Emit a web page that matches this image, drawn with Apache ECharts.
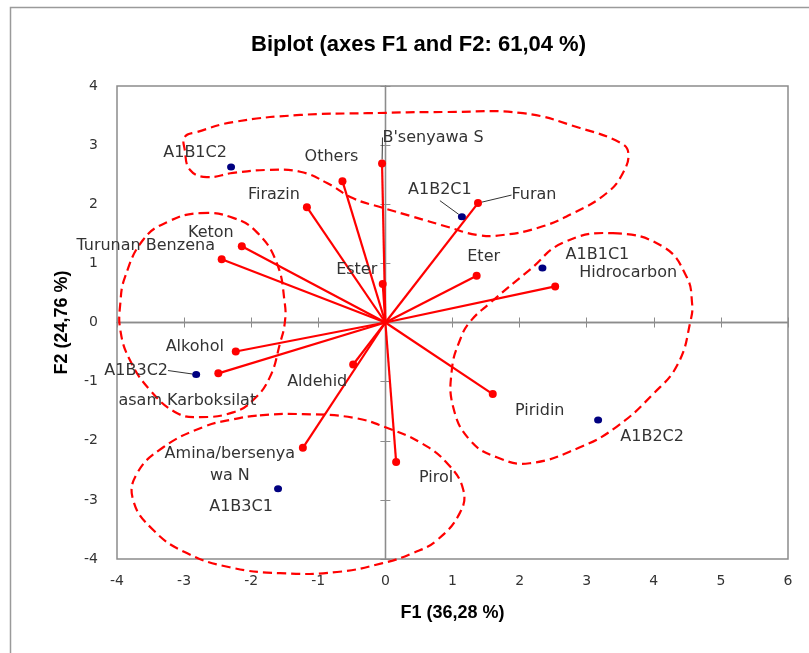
<!DOCTYPE html>
<html>
<head>
<meta charset="utf-8">
<script src="https://cdn.jsdelivr.net/npm/echarts/dist/echarts.min.js"></script>
<style>
  html, body { margin: 0; padding: 0; background: #fff; }
  #chart { width: 809px; height: 653px; }
</style>
</head>
<body>
<div id="chart"></div>
<script>
// variables (red vectors)
var vectorNames = ["B'senyawa S", "Others", "Firazin", "Keton", "Turunan Benzena", "Ester", "Furan", "Eter",
  "Hidrocarbon", "Alkohol", "asam Karboksilat", "Aldehid", "Amina/bersenya\nwa N", "Pirol", "Piridin"];
var vectorF1 = [-0.05, -0.64, -1.17, -2.14, -2.44, -0.04, 1.38, 1.36, 2.53, -2.23, -2.49, -0.48, -1.23, 0.16, 1.60];
var vectorF2 = [2.69, 2.39, 1.95, 1.29, 1.07, 0.65, 2.02, 0.79, 0.61, -0.49, -0.86, -0.71, -2.12, -2.36, -1.21];

// observations (blue points)
var obsNames = ["A1B1C2", "A1B2C1", "A1B1C1", "A1B3C2", "A1B3C1", "A1B2C2"];
var obsF1 = [-2.30, 1.14, 2.34, -2.82, -1.60, 3.17];
var obsF2 = [2.63, 1.79, 0.92, -0.88, -2.81, -1.65];

// hand drawn group outlines [F1, F2]
var groupTop = [[-2.99, 3.14], [-2.81, 3.22], [-2.27, 3.39], [-1.27, 3.51], [-0.27, 3.54], [0.92, 3.56], [2.05, 3.54],
  [2.90, 3.29], [3.50, 3.04], [3.62, 2.87], [3.54, 2.53], [3.30, 2.19], [2.80, 1.85], [2.30, 1.61], [1.75, 1.48],
  [1.37, 1.48], [0.92, 1.62], [0.41, 1.79], [-0.04, 1.94], [-0.48, 2.10], [-0.87, 2.36], [-1.27, 2.55],
  [-1.76, 2.58], [-2.27, 2.53], [-2.66, 2.46], [-2.91, 2.58], [-2.99, 2.92]];
var groupLeft = [[-2.76, 1.85], [-2.27, 1.77], [-1.91, 1.52], [-1.62, 1.01], [-1.50, 0.33], [-1.50, -0.01],
  [-1.57, -0.35], [-1.72, -0.92], [-1.97, -1.31], [-2.27, -1.52], [-2.76, -1.60], [-3.11, -1.53], [-3.51, -1.14],
  [-3.81, -0.63], [-3.95, -0.13], [-3.95, 0.33], [-3.88, 0.77], [-3.61, 1.40], [-3.25, 1.70]];
var groupRight = [[3.39, 1.51], [4.14, 1.28], [4.49, 0.77], [4.57, 0.33], [4.55, 0.04], [4.36, -0.70], [3.98, -1.22],
  [3.45, -1.76], [2.90, -2.11], [2.15, -2.38], [1.66, -2.28], [1.26, -1.99], [1.01, -1.43], [0.99, -0.80],
  [1.11, -0.30], [1.26, 0.01], [1.56, 0.33], [2.15, 0.89], [2.65, 1.35]];
var groupBottom = [[-1.87, -1.57], [-1.23, -1.55], [-0.48, -1.61], [0.02, -1.78], [0.52, -2.03], [0.92, -2.38],
  [1.16, -2.83], [1.11, -3.22], [0.77, -3.68], [0.41, -3.90], [-0.04, -4.07], [-0.72, -4.22], [-1.57, -4.24],
  [-2.32, -4.14], [-2.96, -3.90], [-3.46, -3.51], [-3.76, -3.00], [-3.70, -2.55], [-3.31, -2.11], [-2.72, -1.77],
  [-2.32, -1.65]];
var groups = [groupTop, groupLeft, groupRight, groupBottom];

// label placement (pixels from the point)
var vectorLabelOffset = [[51, -26], [-11, -24], [-33, -12], [-31, -13], [-76, -13], [-26, -14], [56, -8], [7, -19],
  [73, -14], [-41, -5], [-31, 27], [-36, 17], [-73, 17], [40, 16], [47, 17]];
var obsLabelOffset = [[-36, -14], [-22, -27], [55, -13], [-60, -4], [-37, 18], [54, 17]];
var withLeader = ["B'senyawa S", "Furan", "A1B2C1", "A1B3C2"];

var labelFont = "DejaVu Sans";
var textColor = "#333333";
var axisGray = "#8c8c8c";

function pointLabel(offsets) {
  return function (params) {
    var o = offsets[params.dataIndex];
    return { dx: o[0], dy: o[1] };
  };
}

// closed smooth dashed outline through the traced points
function renderGroup(params, api) {
  var pts = groups[params.dataIndex].map(function (p) {
    return api.coord(p);
  });
  return {
    type: "polygon",
    shape: { points: pts, smooth: 0.45 },
    style: { fill: null, stroke: "#ff0000", lineWidth: 2.2, lineDash: [9, 5] }
  };
}

var labelStyle = {
  show: true,
  position: "inside",
  formatter: "{b}",
  color: textColor,
  fontFamily: labelFont,
  fontSize: 16,
  lineHeight: 22
};

var leaderStyle = { show: false, lineStyle: { color: textColor, width: 1 } };

var vectorPoints = vectorNames.map(function (n, i) {
  var item = { name: n, value: [vectorF1[i], vectorF2[i]] };
  if (withLeader.indexOf(n) >= 0) item.labelLine = { show: true };
  return item;
});
var obsPoints = obsNames.map(function (n, i) {
  var item = { name: n, value: [obsF1[i], obsF2[i]] };
  if (withLeader.indexOf(n) >= 0) item.labelLine = { show: true };
  return item;
});
var vectorLines = vectorNames.map(function (n, i) {
  return { coords: [[0, 0], [vectorF1[i], vectorF2[i]]] };
});

var myChart = echarts.init(document.getElementById("chart"));

var baseX = { type: "value", min: -4, max: 6, interval: 1, splitLine: { show: false } };
var baseY = { type: "value", min: -4, max: 4, interval: 1, splitLine: { show: false } };

var option = {
  backgroundColor: "#fff",
  animation: false,
  title: {
    text: "Biplot (axes F1 and F2: 61,04 %)",
    left: 246,
    top: 29,
    textStyle: { fontFamily: "Liberation Sans", fontWeight: "bold", fontSize: 22, color: "#000" }
  },
  graphic: [
    {
      type: "rect",
      shape: { x: 10.5, y: 7.5, width: 900, height: 800 },
      style: { fill: null, stroke: "#9a9a9a", lineWidth: 1.5 },
      silent: true
    }
  ],
  grid: {
    left: 117,
    right: 21,
    top: 86,
    bottom: 94,
    show: true,
    borderColor: axisGray,
    borderWidth: 1.5
  },
  xAxis: [
    Object.assign({}, baseX, {
      position: "bottom",
      axisLine: { show: false, onZero: false },
      axisTick: { show: false },
      axisLabel: { color: textColor, fontFamily: labelFont, fontSize: 14, margin: 15 },
      name: "F1 (36,28 %)",
      nameLocation: "middle",
      nameGap: 45,
      nameTextStyle: { fontFamily: "Liberation Sans", fontWeight: "bold", fontSize: 18, color: "#000" }
    }),
    Object.assign({}, baseX, {
      position: "bottom",
      axisLine: { show: true, onZero: true, onZeroAxisIndex: 0, lineStyle: { color: axisGray, width: 1.3 } },
      axisTick: { show: true, length: 5, lineStyle: { color: axisGray } },
      axisLabel: { show: false }
    }),
    Object.assign({}, baseX, {
      position: "top",
      axisLine: { show: true, onZero: true, onZeroAxisIndex: 0, lineStyle: { color: axisGray, width: 1.3 } },
      axisTick: { show: true, length: 5, lineStyle: { color: axisGray } },
      axisLabel: { show: false }
    })
  ],
  yAxis: [
    Object.assign({}, baseY, {
      position: "left",
      axisLine: { show: false, onZero: false },
      axisTick: { show: false },
      axisLabel: { color: textColor, fontFamily: labelFont, fontSize: 14, margin: 19 },
      name: "F2 (24,76 %)",
      nameLocation: "middle",
      nameGap: 46,
      nameRotate: 90,
      nameTextStyle: { fontFamily: "Liberation Sans", fontWeight: "bold", fontSize: 18, color: "#000" }
    }),
    Object.assign({}, baseY, {
      position: "left",
      axisLine: { show: true, onZero: true, onZeroAxisIndex: 0, lineStyle: { color: axisGray, width: 1.3 } },
      axisTick: { show: true, length: 5, lineStyle: { color: axisGray } },
      axisLabel: { show: false }
    }),
    Object.assign({}, baseY, {
      position: "right",
      axisLine: { show: true, onZero: true, onZeroAxisIndex: 0, lineStyle: { color: axisGray, width: 1.3 } },
      axisTick: { show: true, length: 5, lineStyle: { color: axisGray } },
      axisLabel: { show: false }
    })
  ],
  series: [
    {
      type: "custom",
      data: groups.map(function (g) {
        return g[0];
      }),
      renderItem: renderGroup,
      silent: true,
      z: 3
    },
    {
      type: "lines",
      coordinateSystem: "cartesian2d",
      data: vectorLines,
      silent: true,
      z: 4,
      lineStyle: { color: "#ff0000", width: 2.2, opacity: 1 }
    },
    {
      type: "scatter",
      data: vectorPoints,
      symbol: "circle",
      symbolSize: 8,
      z: 5,
      itemStyle: { color: "#ff0000", opacity: 1 },
      label: labelStyle,
      labelLine: leaderStyle,
      labelLayout: pointLabel(vectorLabelOffset)
    },
    {
      type: "scatter",
      data: obsPoints,
      symbol: "circle",
      symbolSize: [8, 7],
      z: 5,
      itemStyle: { color: "#000080", opacity: 1 },
      label: labelStyle,
      labelLine: leaderStyle,
      labelLayout: pointLabel(obsLabelOffset)
    }
  ]
};

myChart.setOption(option);
</script>
</body>
</html>
